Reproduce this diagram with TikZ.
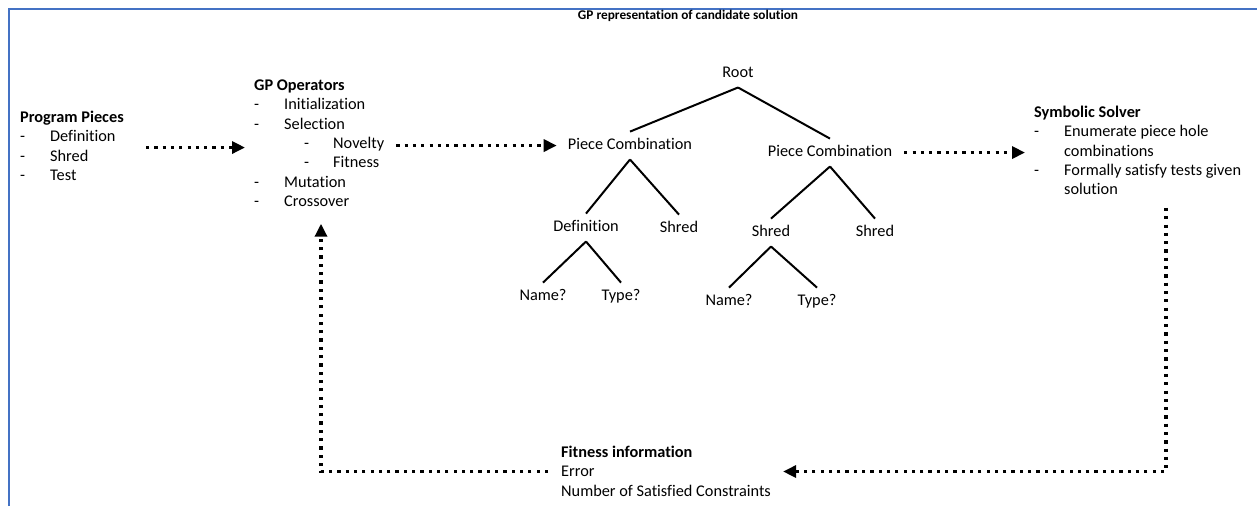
\documentclass[tikz,border=0pt]{standalone}
\usepackage{fontspec}
\setmainfont{Carlito}[Ligatures=NoCommon]
\usetikzlibrary{arrows.meta,calc}
% list entries: a dash column followed by the item text
\newcommand{\itm}[1]{\makebox[30pt][l]{-}#1}
\newcommand{\subitm}[1]{\hspace*{50pt}\makebox[29pt][l]{-}#1}
\definecolor{frameblue}{RGB}{68,114,196}
\begin{document}
\begin{tikzpicture}[x=1pt,y=-1pt,
  lbl/.style={inner sep=0pt, font=\fontsize{16.3}{19.4}\selectfont},
  block/.style={lbl, anchor=base west},
  leaf/.style={lbl, inner xsep=2pt, inner ysep=7pt, text height=10.5pt, text depth=3pt, anchor=base},
  feed/.style={line width=3.2pt, dash pattern=on 3.2pt off 5.1pt, -{Triangle[length=13pt,width=12pt]}},
  branch/.style={line width=2pt}]
\useasboundingbox (0,0) rectangle (1257,506);

% frame
\draw[frameblue, line width=2pt] (9,506) -- (9,8.5) -- (1257,8.5);

% heading
\node[inner sep=0pt, anchor=base, font=\fontsize{13.3}{16}\selectfont\bfseries] (title) at (688,19.3) {GP representation of candidate solution};

% text blocks
\node[block] (pp) at (20,122.3) {\begin{tabular}[t]{@{}l@{}}
  \textbf{Program Pieces}\\
  \itm{Definition}\\
  \itm{Shred}\\
  \itm{Test}
\end{tabular}};

\node[block] (gpo) at (254,90.3) {\begin{tabular}[t]{@{}l@{}}
  \textbf{GP Operators}\\
  \itm{Initialization}\\
  \itm{Selection}\\
  \subitm{Novelty}\\
  \subitm{Fitness}\\
  \itm{Mutation}\\
  \itm{Crossover}
\end{tabular}};

\node[block] (sym) at (1034,117.3) {\begin{tabular}[t]{@{}l@{}}
  \textbf{Symbolic Solver}\\
  \itm{Enumerate piece hole}\\
  \hspace*{30pt}combinations\\
  \itm{Formally satisfy tests given}\\
  \hspace*{30pt}solution
\end{tabular}};

\node[block, font=\fontsize{16.3}{19.4}\selectfont\bfseries] (fithead) at (561,457.3) {Fitness information};
\node[block] (fiterr) at (561,476.7) {Error};
\node[block] (fitnum) at (561,496.1) {Number of Satisfied Constraints};

% candidate solution tree
\node[leaf] (root) at (738,77.3) {Root};
\node[leaf] (pc1) at (630,149.3) {Piece Combination};
\node[leaf] (pc2) at (830,156.3) {Piece Combination};
\node[leaf] (def) at (586,231.3) {Definition};
\node[leaf] (sh1) at (679,232.3) {Shred};
\node[leaf] (sh2) at (771,236.3) {Shred};
\node[leaf] (sh3) at (875,236.3) {Shred};
\node[leaf] (nm1) at (543,300.3) {Name?};
\node[leaf] (ty1) at (621,300.3) {Type?};
\node[leaf] (nm2) at (729,305.3) {Name?};
\node[leaf] (ty2) at (817,305.3) {Type?};

\draw[branch] (root.south) -- (pc1.north);
\draw[branch] (root.south) -- (pc2.north);
\draw[branch] (pc1.south) -- (def.north);
\draw[branch] (pc1.south) -- (sh1.north);
\draw[branch] (pc2.south) -- (sh2.north);
\draw[branch] (pc2.south) -- (sh3.north);
\draw[branch] (def.south) -- (nm1.north);
\draw[branch] (def.south) -- (ty1.north);
\draw[branch] (sh2.south) -- (nm2.north);
\draw[branch] (sh2.south) -- (ty2.north);

% data flow
\draw[feed] ($(pp.east)+(22,0)$) -- ($(pp.east -| gpo.west)+(-9,0)$);
\draw[feed] ($(gpo.east |- pc1.west)+(12,0)$) -- ($(pc1.west)+(-9,0)$);
\draw[feed] ($(pc2.east)+(10,0)$) -- ($(pc2.east -| sym.west)+(-9,0)$);
\draw[feed] ($(sym.south west)+(132,7)$) |- ($(fitnum.east |- fiterr.west)+(12,0)$);
\draw[feed] ($(fiterr.west)+(-13,0)$) -| ($(gpo.south west)+(67,11)$);
\end{tikzpicture}
\end{document}
